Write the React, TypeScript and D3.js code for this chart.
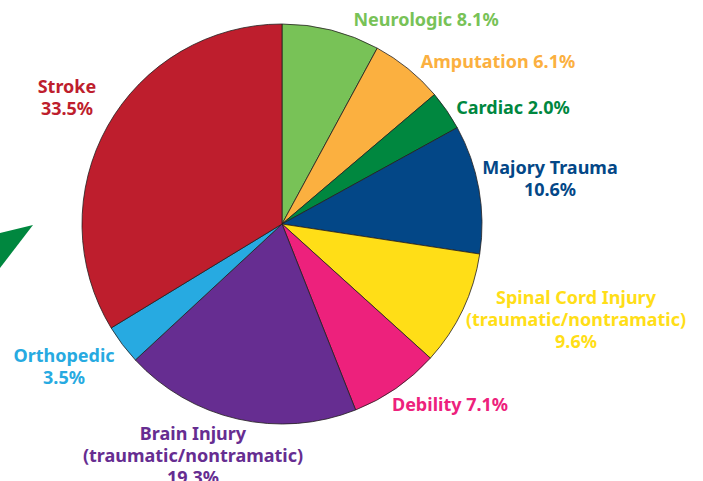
import React from "react";
import * as d3 from "d3";

const categories = [
  "Neurologic",
  "Amputation",
  "Cardiac",
  "Majory Trauma",
  "Spinal Cord Injury",
  "Debility",
  "Brain Injury",
  "Orthopedic",
  "Stroke",
];
// percentages as printed in the labels
const values = [8.1, 6.1, 2.0, 10.6, 9.6, 7.1, 19.3, 3.5, 33.5];
// slice shares as drawn in the picture (measured from the slice angles)
const sliceValues = [7.9, 5.9, 3.2, 10.4, 9.3, 7.3, 19.1, 3.2, 33.7];
const colors = [
  "#78C257",
  "#FBB040",
  "#00873F",
  "#034787",
  "#FFDE17",
  "#ED217C",
  "#662D91",
  "#27AAE1",
  "#BE1E2D",
];
const subLabels = ["", "", "", "", "(traumatic/nontramatic)", "", "(traumatic/nontramatic)", "", ""];

// label layout: [x, baselineY, inline]
const labelLayout: [number, number, boolean][] = [
  [426, 26, true],
  [498, 68, true],
  [513, 114, true],
  [550, 174, false],
  [576, 304, false],
  [450, 411, false],
  [193, 440, false],
  [64, 362, false],
  [67, 93, false],
];

export default function App() {
  const W = 703, H = 481;
  const cx = 282, cy = 224, r = 200;
  const pie = d3.pie<number>().sort(null).value((d) => d);
  const arcs = pie(sliceValues);
  const arc = d3.arc<d3.PieArcDatum<number>>().innerRadius(0).outerRadius(r);
  const lh = 22;
  return (
    <svg width={W} height={H} style={{ position: "absolute", left: 0, top: 0 }}
      fontFamily="'Noto Sans', sans-serif" fontWeight={700} fontSize={18}>
      <path d="M33,225 L0,233 L0,268 Z" fill="#00873F" />
      <g transform={`translate(${cx},${cy})`}>
        {arcs.map((a, i) => (
          <path key={i} d={arc(a) || ""} fill={colors[i]} stroke="#231F20" strokeWidth={0.8} />
        ))}
      </g>
      {categories.map((c, i) => {
        const [x, y] = labelLayout[i];
        const inline = i === 0 || i === 1 || i === 2 || i === 5;
        const pct = `${values[i].toFixed(1)}%`;
        const lines = inline ? [`${c} ${pct}`] : subLabels[i] ? [c, subLabels[i], pct] : [c, pct];
        return (
          <text key={c} x={x} y={y} textAnchor="middle" fill={colors[i]}>
            {lines.map((t, j) => (
              <tspan key={j} x={x} dy={j === 0 ? 0 : lh}>{t}</tspan>
            ))}
          </text>
        );
      })}
    </svg>
  );
}
